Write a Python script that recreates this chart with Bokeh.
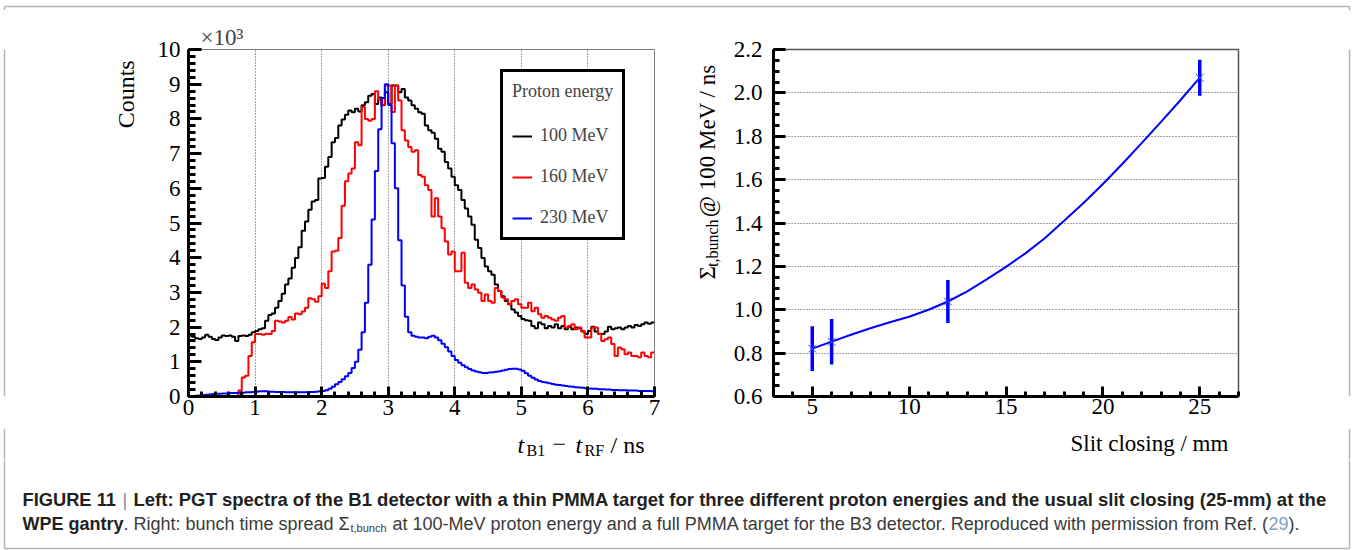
import numpy as np
from bokeh.plotting import figure
from bokeh.layouts import column, row
from bokeh.models import (Range1d, SingleIntervalTicker, PrintfTickFormatter, Label,
                          Legend, LegendItem, Title, Span)
from bokeh.embed import file_html
from bokeh.resources import INLINE

# ---------------- data: left panel (counts in units of 10^3, bins of 0.05 ns) -------------
bin_width_ns = 0.05
counts_100MeV = [
    1.75, 1.72, 1.68, 1.66, 1.70, 1.78, 1.72, 1.66, 1.63, 1.70,
    1.76, 1.74, 1.76, 1.72, 1.60, 1.74, 1.76, 1.74, 1.78, 1.85,
    1.89, 1.94, 1.97, 2.18, 2.35, 2.39, 2.56, 2.75, 2.96, 3.23,
    3.40, 3.71, 3.99, 4.30, 4.78, 5.04, 5.38, 5.62, 5.66, 6.28,
    6.30, 6.62, 6.90, 7.33, 7.45, 7.81, 7.98, 8.12, 8.24, 8.19,
    8.29, 8.21, 8.39, 8.48, 8.67, 8.72, 8.43, 8.62, 8.39, 8.77,
    8.43, 8.96, 8.96, 8.77, 8.86, 8.62, 8.53, 8.39, 8.29, 8.19,
    8.15, 7.81, 7.67, 7.60, 7.43, 7.14, 7.05, 6.76, 6.57, 6.33,
    6.09, 5.95, 5.66, 5.42, 5.19, 4.95, 4.52, 4.28, 3.99, 3.75,
    3.61, 3.51, 3.23, 3.04, 2.89, 2.75, 2.66, 2.51, 2.42, 2.32,
    2.23, 2.20, 2.18, 2.03, 1.97, 2.13, 2.08, 1.97, 2.03, 1.99,
    2.08, 1.97, 2.03, 1.94, 2.01, 1.94, 1.99, 1.97, 1.87, 1.80,
    1.89, 2.01, 1.87, 1.81, 1.80, 1.87, 2.01, 1.94, 1.97, 1.99,
    1.94, 1.99, 2.03, 1.99, 2.06, 2.03, 2.08, 2.13, 2.10, 2.13,
]
counts_160MeV = [
    0.00, 0.00, 0.00, 0.00, 0.00, 0.00, 0.00, 0.00, 0.00, 0.00,
    0.00, 0.00, 0.00, 0.00, 0.00, 0.17, 0.55, 0.60, 1.17, 1.56,
    1.80, 1.80, 1.78, 1.81, 1.80, 1.89, 2.18, 2.16, 2.13, 2.18,
    2.29, 2.22, 2.39, 2.37, 2.45, 2.56, 2.83, 2.80, 2.73, 2.89,
    3.25, 3.13, 3.61, 4.18, 4.20, 4.57, 5.50, 6.20, 6.43, 6.57,
    7.33, 7.24, 8.34, 8.00, 7.95, 8.00, 8.80, 8.55, 8.40, 8.96,
    8.96, 8.20, 8.96, 8.53, 7.67, 7.38, 7.19, 7.05, 7.10, 6.38,
    6.33, 6.09, 5.95, 5.19, 5.71, 5.19, 4.85, 4.47, 4.09, 4.18,
    3.61, 3.61, 4.14, 3.28, 3.13, 3.23, 3.08, 2.99, 2.75, 2.94,
    2.75, 2.70, 3.13, 3.04, 2.85, 2.80, 2.66, 2.75, 2.80, 2.66,
    2.56, 2.56, 2.70, 2.46, 2.56, 2.37, 2.27, 2.32, 2.27, 2.22,
    2.18, 2.27, 2.32, 1.99, 2.03, 2.08, 1.94, 1.99, 1.89, 1.70,
    1.70, 1.99, 1.99, 1.80, 1.60, 1.65, 1.70, 1.51, 1.17, 1.41,
    1.36, 1.22, 1.27, 1.17, 1.17, 1.13, 1.27, 1.17, 1.13, 1.27,
]
counts_230MeV = [
    0.00, 0.01, 0.02, 0.03, 0.04, 0.05, 0.06, 0.07, 0.08, 0.08,
    0.09, 0.09, 0.10, 0.10, 0.10, 0.11, 0.11, 0.12, 0.12, 0.13,
    0.14, 0.15, 0.15, 0.15, 0.14, 0.14, 0.13, 0.13, 0.13, 0.12,
    0.12, 0.12, 0.12, 0.12, 0.12, 0.12, 0.13, 0.13, 0.14, 0.15,
    0.16, 0.18, 0.22, 0.28, 0.35, 0.42, 0.50, 0.58, 0.68, 0.82,
    1.00, 1.35, 1.85, 2.70, 3.80, 5.10, 6.50, 7.70, 8.60, 9.00,
    8.40, 7.30, 6.00, 4.50, 3.20, 2.30, 1.85, 1.75, 1.72, 1.70,
    1.70, 1.68, 1.72, 1.75, 1.70, 1.62, 1.52, 1.42, 1.30, 1.17,
    1.05, 0.97, 0.90, 0.84, 0.79, 0.75, 0.72, 0.70, 0.68, 0.68,
    0.69, 0.70, 0.71, 0.73, 0.75, 0.77, 0.79, 0.80, 0.80, 0.78,
    0.74, 0.67, 0.60, 0.54, 0.49, 0.45, 0.42, 0.40, 0.38, 0.36,
    0.34, 0.33, 0.32, 0.30, 0.29, 0.28, 0.27, 0.26, 0.25, 0.24,
    0.23, 0.22, 0.22, 0.21, 0.21, 0.20, 0.20, 0.19, 0.19, 0.18,
    0.18, 0.18, 0.17, 0.17, 0.17, 0.16, 0.16, 0.16, 0.16, 0.15,
]
energy_labels = ["100 MeV", "160 MeV", "230 MeV"]

# ---------------- data: right panel ----------------
slit_mm = [5, 6, 12, 25]
sigma_ns = [0.821, 0.852, 1.038, 2.070]
sigma_err_ns = [0.103, 0.105, 0.099, 0.083]
fit_x_mm = [5, 6, 7, 8, 9, 10, 11, 12, 13, 14, 15, 16, 17, 18, 19, 20, 21, 22, 23, 24, 25]
fit_y_ns = [0.821, 0.853, 0.885, 0.915, 0.942, 0.968, 1.000, 1.038, 1.085, 1.140, 1.198,
            1.260, 1.330, 1.410, 1.492, 1.580, 1.672, 1.768, 1.866, 1.966, 2.070]

# ---------------- helpers ----------------
SERIF = "Liberation Serif"
SANS = "Liberation Sans"
TICK_FS = "23px"
BORDER = "#b4b4b4"


def text_fig(x0, y0, w, h):
    """A blank figure whose data coordinates equal page pixel coordinates."""
    f = figure(width=w, height=h, x_range=Range1d(x0, x0 + w), y_range=Range1d(y0 + h, y0),
               title=None, min_border=0, x_axis_type=None, y_axis_type=None,
               toolbar_location=None, output_backend="svg")
    f.outline_line_color = None
    f.background_fill_color = "white"
    f.border_fill_color = "white"
    return f


def txt(f, x, y, text, size="23px", font=SERIF, style="normal",
        angle=0.0, color="black"):
    # all texts are anchored at their start (left-aligned) and vertically centred
    f.add_layout(Label(x=x, y=y, text=text, text_font=font, text_font_size=size,
                       text_font_style=style, text_align="left", text_baseline="middle",
                       angle=angle, text_color=color))


def border(f, xs0, ys0, xs1, ys1):
    f.segment(x0=xs0, y0=ys0, x1=xs1, y1=ys1, line_color=BORDER, line_width=1.5)


def vborder(f, x):
    f.add_layout(Span(location=x, dimension="height", line_color=BORDER, line_width=1.5))


def style_axis(ax, tick_in, minor_in, standoff):
    ax.axis_line_width = 3
    ax.axis_line_color = "black"
    ax.major_tick_in = tick_in
    ax.major_tick_out = 0
    ax.minor_tick_in = minor_in
    ax.minor_tick_out = 0
    ax.major_tick_line_width = 3
    ax.minor_tick_line_width = 3
    ax.major_tick_line_color = "black"
    ax.minor_tick_line_color = "black"
    ax.major_label_text_font = SERIF
    ax.major_label_text_font_size = TICK_FS
    ax.major_label_text_color = "black"
    ax.major_label_standoff = standoff


# ---------------- left plot ----------------
p1 = figure(width=528, height=418, x_range=Range1d(0, 7), y_range=Range1d(0, 10),
            output_backend="svg", toolbar_location=None,
            min_border_left=40, min_border_right=22, min_border_top=37, min_border_bottom=32)
p1.background_fill_color = "white"
p1.border_fill_color = "white"
p1.outline_line_color = "#808080"
p1.outline_line_width = 1
p1.xaxis.ticker = SingleIntervalTicker(interval=1, num_minor_ticks=5)
p1.yaxis.ticker = SingleIntervalTicker(interval=1, num_minor_ticks=5)
style_axis(p1.xaxis[0], 10, 5, 3)
style_axis(p1.yaxis[0], 13, 7, 8)
p1.xgrid.grid_line_color = "#444444"
p1.xgrid.grid_line_dash = "1 2"
p1.xgrid.grid_line_width = 1
p1.ygrid.visible = False

edges = np.round(np.arange(len(counts_100MeV) + 1) * bin_width_ns, 4)
renderers = []
for vals, col in ((counts_100MeV, "#000000"), (counts_160MeV, "#ff0000"), (counts_230MeV, "#0000ff")):
    yv = list(vals) + [vals[-1]]
    renderers.append(p1.step(edges, yv, mode="after", line_color=col, line_width=2))

legend = Legend(items=[LegendItem(label=lab, renderers=[r]) for lab, r in zip(energy_labels, renderers)],
                location=(312, 156), title="Proton energy",
                title_text_font=SERIF, title_text_font_size="18px", title_text_font_style="normal",
                title_standoff=23,
                label_text_font=SERIF, label_text_font_size="18px",
                glyph_width=20, glyph_height=20, label_height=20, label_standoff=8,
                spacing=20, padding=9, margin=0,
                border_line_color="black", border_line_width=3, border_line_alpha=1,
                background_fill_color="white", background_fill_alpha=1)
p1.add_layout(legend)
p1.add_layout(Title(text="\u00d710\u00b3", align="left", offset=12, standoff=0,
                    text_font=SERIF, text_font_size="23px", text_font_style="normal"), "above")

left_txt = text_fig(0, 10, 148, 418)
txt(left_txt, 125, 105, "Counts", size="24px", angle=np.pi / 2)
vborder(left_txt, 4)

# ---------------- right plot ----------------
p2 = figure(width=597, height=418, x_range=Range1d(3, 27), y_range=Range1d(0.6, 2.2),
            output_backend="svg", toolbar_location=None,
            min_border_left=48, min_border_right=84, min_border_top=39, min_border_bottom=30)
p2.background_fill_color = "white"
p2.border_fill_color = "white"
p2.outline_line_color = "#555555"
p2.outline_line_width = 1.5
p2.xaxis.ticker = SingleIntervalTicker(interval=5, num_minor_ticks=5)
p2.yaxis.ticker = SingleIntervalTicker(interval=0.2, num_minor_ticks=4)
p2.yaxis.formatter = PrintfTickFormatter(format="%.1f")
style_axis(p2.xaxis[0], 10, 5, 2)
style_axis(p2.yaxis[0], 12, 6, 11)
p2.xgrid.visible = False
p2.ygrid.grid_line_color = "#444444"
p2.ygrid.grid_line_dash = "1 2"
p2.ygrid.grid_line_width = 1

p2.line(fit_x_mm, fit_y_ns, line_color="#0000ff", line_width=2)
lo = [s - e for s, e in zip(sigma_ns, sigma_err_ns)]
hi = [s + e for s, e in zip(sigma_ns, sigma_err_ns)]
p2.segment(x0=slit_mm, y0=lo, x1=slit_mm, y1=hi, line_color="#0000ff", line_width=3.5)
p2.scatter(slit_mm, sigma_ns, marker="x", size=11, line_color="#3050ff", line_width=1)

mid_txt = text_fig(676, 10, 49, 418)
txt(mid_txt, 707, 287, "\u03a3", size="23px", angle=np.pi / 2)
txt(mid_txt, 712, 272, "t,bunch", size="16px", angle=np.pi / 2)
txt(mid_txt, 707, 212, "@ 100 MeV / ns", size="23px", angle=np.pi / 2)

right_txt = text_fig(1322, 10, 30, 418)
vborder(right_txt, 1349)

# ---------------- x-axis titles strip (full width) ----------------
xlab = text_fig(0, 428, 1352, 32)
border(xlab, [4, 1349], [428, 428], [4, 1349], [460, 460])
txt(xlab, 517, 444, "t", size="24px", style="italic")
txt(xlab, 526, 450, "B1", size="16px")
txt(xlab, 552, 444, "\u2212", size="24px")
txt(xlab, 575, 444, "t", size="24px", style="italic")
txt(xlab, 584, 450, "RF", size="16px")
txt(xlab, 610, 444, "/ ns", size="24px")
txt(xlab, 1070, 443, "Slit closing / mm", size="23px")

# ---------------- top strip (page border) ----------------
top = text_fig(0, 0, 1352, 10)
border(top, [4, 4, 1349], [4, 4, 4], [1349, 4, 1349], [4, 10, 10])

# ---------------- caption ----------------
cap = text_fig(0, 460, 1352, 90)
border(cap, [4, 1349, 4], [460, 460, 548], [4, 1349, 1349], [548, 548, 548])

CAP_DARK = "#231f20"
CAP_REG = "#3a3a3a"
cap_line1_head = "FIGURE 11"
cap_line1_bold = ("Left: PGT spectra of the B1 detector with a thin PMMA target for three different "
                  "proton energies and the usual slit closing (25-mm) at the")
cap_line2_bold = "WPE gantry"
cap_line2_a = ". Right: bunch time spread \u03a3"
cap_line2_sub = "t,bunch"
cap_line2_b = ("at 100-MeV proton energy and a full PMMA target for the B3 detector. "
               "Reproduced with permission from Ref. (")
cap_ref = "29"

txt(cap, 22, 499, cap_line1_head, size="18.3px", font=SANS, style="bold", color=CAP_DARK)
txt(cap, 122, 499, "|", size="18.3px", font=SANS, color="#8a8a8a")
txt(cap, 133, 499, cap_line1_bold, size="18.5px", font=SANS, style="bold", color=CAP_DARK)
txt(cap, 22, 523, cap_line2_bold, size="18px", font=SANS, style="bold", color=CAP_DARK)
txt(cap, 123, 523, cap_line2_a, size="18px", font=SANS, color=CAP_REG)
txt(cap, 350, 527, cap_line2_sub, size="11px", font=SANS, color=CAP_REG)
txt(cap, 392, 523, cap_line2_b, size="18px", font=SANS, color=CAP_REG)
txt(cap, 1268, 523, cap_ref, size="18px", font=SANS, color="#7f9fc8")
txt(cap, 1288, 523, ").", size="18px", font=SANS, color=CAP_REG)

layout = column(top,
                row(left_txt, p1, mid_txt, p2, right_txt),
                xlab,
                cap)
open("out.html", "w").write(file_html(layout, INLINE))
